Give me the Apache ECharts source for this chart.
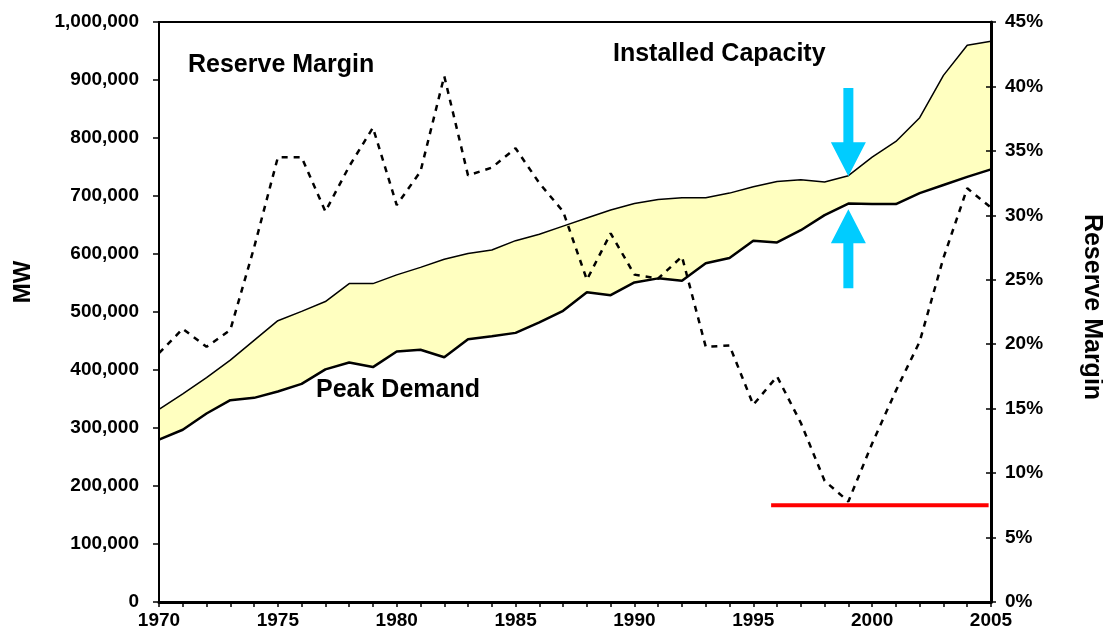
<!DOCTYPE html>
<html>
<head>
<meta charset="utf-8">
<script src="https://cdn.jsdelivr.net/npm/echarts@6/dist/echarts.min.js"></script>
<style>
  html, body { margin: 0; padding: 0; background: #fff; }
  #chart { width: 1103px; height: 634px; }
</style>
</head>
<body>
<div id="chart"></div>
<script>
// years 1970 - 2005
var years = [];
for (var y = 1970; y <= 2005; y++) years.push(y);

// installed capacity, MW (thousands)
var capacity = [332, 359, 387, 417, 451, 485, 501, 518, 549, 549,
                564, 577, 591, 601, 607, 623, 634, 648, 662, 676,
                687, 694, 697, 697, 705, 716, 725, 728, 724, 735,
                767, 794, 835, 908, 960, 967];
// peak demand, MW (thousands)
var demand = [280, 297, 325, 348, 352, 363, 376, 401, 413, 405,
              432, 435, 422, 453, 458, 464, 482, 502, 534, 529,
              551, 558, 554, 584, 593, 623, 620, 641, 667, 687,
              686, 686, 705, 719, 733, 746];
// reserve margin, %
var margin = [19.3, 21.2, 19.8, 21.1, 27.5, 34.5, 34.5, 30.3, 33.8, 36.8,
              30.8, 33.4, 40.8, 33.1, 33.7, 35.2, 32.5, 30.3, 25.0, 28.6,
              25.4, 25.1, 26.8, 19.8, 19.9, 15.3, 17.5, 13.9, 9.4, 7.8,
              12.3, 16.4, 20.2, 26.7, 32.1, 30.6];
// red target line on the reserve margin axis
var targetLine = [[1995.75, 7.5], [2004.9, 7.5]];
// blue arrows at 1999 (MW): down arrow top/tip, up arrow tip/bottom
var arrowYear = 1999;
var downArrow = [886000, 734000];
var upArrow = [677000, 541000];

function pairs(vals, scale) {
  return years.map(function (yr, i) { return [yr, vals[i] * scale]; });
}

var font = '"Liberation Sans", Arial, sans-serif';
var chart = echarts.init(document.getElementById('chart'));

chart.setOption({
  animation: false,
  backgroundColor: '#fff',
  grid: { left: 159, right: 112, top: 22, bottom: 32, show: true,
          borderColor: '#000', borderWidth: 2, backgroundColor: 'transparent' },
  xAxis: {
    type: 'value', min: 1970, max: 2005, interval: 5, z: 10,
    axisLine: { lineStyle: { color: '#000', width: 3 } },
    axisTick: { length: 5, lineStyle: { color: '#000', width: 1.5 } },
    minorTick: { show: true, splitNumber: 5, length: 5, lineStyle: { color: '#000', width: 1.5 } },
    splitLine: { show: false },
    axisLabel: { color: '#000', fontFamily: font, fontWeight: 'bold', fontSize: 19, margin: 9,
                 formatter: function (v) { return String(v); } }
  },
  yAxis: [{
    type: 'value', min: 0, max: 1000000, interval: 100000, z: 10,
    axisLine: { show: true, lineStyle: { color: '#000', width: 2 } },
    axisTick: { show: true, length: 6, lineStyle: { color: '#000', width: 1.5 } },
    splitLine: { show: false },
    axisLabel: { color: '#000', fontFamily: font, fontWeight: 'bold', fontSize: 19, margin: 20,
                 formatter: function (v) { return v.toLocaleString('en-US'); } }
  }, {
    type: 'value', min: 0, max: 45, interval: 5, position: 'right', z: 10,
    axisLine: { show: true, lineStyle: { color: '#000', width: 3 } },
    axisTick: { show: true, length: 5, lineStyle: { color: '#000', width: 1.5 } },
    splitLine: { show: false },
    axisLabel: { color: '#000', fontFamily: font, fontWeight: 'bold', fontSize: 19, margin: 14,
                 formatter: '{value}%' }
  }, {
    // inner half of the crossing ticks on the right axis
    type: 'value', min: 0, max: 45, interval: 5, position: 'right', z: 10,
    axisLine: { show: false },
    axisTick: { show: true, inside: true, length: 5, lineStyle: { color: '#000', width: 1.5 } },
    axisLabel: { show: false },
    splitLine: { show: false }
  }],
  series: [{
    name: 'Installed Capacity', type: 'line', symbol: 'none',
    data: pairs(capacity, 1000),
    lineStyle: { color: '#000', width: 1.5 },
    areaStyle: { color: '#ffffc0', opacity: 1 }
  }, {
    name: 'Peak Demand', type: 'line', symbol: 'none',
    data: pairs(demand, 1000),
    lineStyle: { color: '#000', width: 2.5 },
    areaStyle: { color: '#fff', opacity: 1 }
  }, {
    name: 'Reserve Margin', type: 'line', symbol: 'none', yAxisIndex: 1,
    data: pairs(margin, 1),
    lineStyle: { color: '#000', width: 2.5, type: [6, 6] }
  }, {
    name: 'Target', type: 'line', symbol: 'none', yAxisIndex: 1,
    data: targetLine,
    lineStyle: { color: '#ff0000', width: 4 }
  }]
});

// arrows and labels
function px(v) { return chart.convertToPixel({ xAxisIndex: 0, yAxisIndex: 0 }, [arrowYear, v]); }
function arrow(fromV, tipV) {
  var a = px(fromV), b = px(tipV);
  var x = a[0], dir = b[1] > a[1] ? 1 : -1;
  var head = 34, hw = 17.5, sw = 5;
  var base = b[1] - dir * head;
  return {
    type: 'polygon', z: 20,
    shape: { points: [[x - sw, a[1]], [x + sw, a[1]], [x + sw, base], [x + hw, base],
                      [x, b[1]], [x - hw, base], [x - sw, base]] },
    style: { fill: '#00ccff' }
  };
}
function label(text, x, y, size, rot) {
  return {
    type: 'text', x: x, y: y, rotation: rot || 0, z: 20,
    style: { text: text, fill: '#000', font: 'bold ' + size + 'px ' + font,
             textAlign: rot ? 'center' : 'left', textVerticalAlign: 'middle' }
  };
}

chart.setOption({
  graphic: [
    arrow(downArrow[0], downArrow[1]),
    arrow(upArrow[1], upArrow[0]),
    label('Reserve Margin', 188, 65, 25),
    label('Installed Capacity', 613, 54, 25),
    label('Peak Demand', 316, 390, 25),
    label('MW', 23, 282, 24, Math.PI / 2),
    label('Reserve Margin', 1092, 307, 25, -Math.PI / 2)
  ]
});
</script>
</body>
</html>
